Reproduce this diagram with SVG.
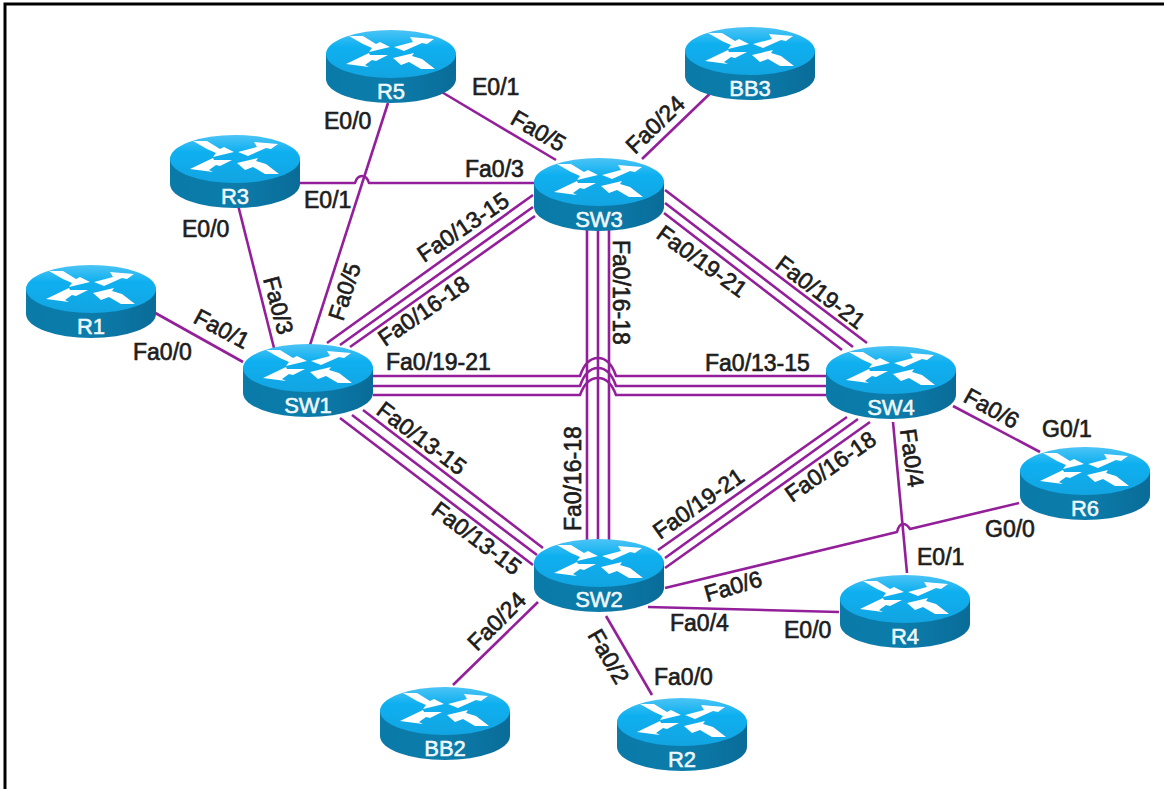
<svg xmlns="http://www.w3.org/2000/svg" width="1164" height="789" viewBox="0 0 1164 789">
<style>
.l{fill:none;stroke:#93209a;stroke-width:2.6;stroke-linejoin:round}
text{font-family:"Liberation Sans",Arial,sans-serif}
.t{font-size:23px;fill:#1c1c1c;stroke:#1c1c1c;stroke-width:.65}
.n{font-size:22px;fill:#eef8fc;stroke:#eef8fc;stroke-width:.55;text-anchor:middle}
</style>
<defs>
<linearGradient id="top" x1="0" y1="0" x2="0" y2="1"><stop offset="0" stop-color="#4cc4f5"/><stop offset=".35" stop-color="#0fb0f0"/><stop offset="1" stop-color="#12a4e2"/></linearGradient>
<linearGradient id="side" x1="0" y1="0" x2="1" y2="0"><stop offset="0" stop-color="#0a7aa8"/><stop offset=".5" stop-color="#0c7cab"/><stop offset="1" stop-color="#0a6c98"/></linearGradient>
<g id="router">
<path d="M-65,0V25A65,24 0 0 0 65,25V0Z" fill="url(#side)"/>
<ellipse rx="65" ry="24" fill="url(#top)"/>
<path fill="#fff" d="M-42,-18L-28,-18L-15,-10L-11,-12L-1,-7L-22,-2L-19,-6L-28,-10Z M3,-7L22,-12L19,-17L43,-15L36,-10L31,-11L13,-3Z M-45,10L-22,-1L-21,1L-3,1L-15,7L-19,6L-26,11L-22,13Z M2,4L23,-1L21,2L31,5L44,15L30,15L18,8L10,11Z"/>
</g>
</defs>
<path d="M5,789V4H1164" fill="none" stroke="#000" stroke-width="3"/>
<g id="connectors">
<path class="l" d="M388,103L310,345"/>
<path class="l" d="M298,183H355Q357,176 362,176Q367,176 369,183H536"/>
<path class="l" d="M440,91L556,160"/>
<path class="l" d="M722,82L642,159"/>
<path class="l" d="M238,205L274,348"/>
<path class="l" d="M150,310L243,362"/>
<path class="l" d="M327,343L533,195M340,345L533,207M350,347L535,216"/>
<path class="l" d="M587,225V545M598,225V545M609,225V545"/>
<path class="l" d="M373,376H580C584,364 590,358 598,358C606,358 612,364 616,376H826"/>
<path class="l" d="M373,386H580C584,374 590,368 598,368C606,368 612,374 616,386H826"/>
<path class="l" d="M373,395H580C584,384 590,378 598,378C606,378 612,384 616,395H826"/>
<path class="l" d="M665,190L867,343M665,203L853,347M664,213L842,350"/>
<path class="l" d="M363,410L543,548M352,415L537,555M340,418L533,565"/>
<path class="l" d="M658,550L847,417M665,558L858,419M665,568L870,422"/>
<path class="l" d="M953,406L1040,452"/>
<path class="l" d="M893,422L907,573"/>
<path class="l" d="M1019,503L910,529Q907,524 903,524Q899,524 897,532L665,588"/>
<path class="l" d="M648,607L839,612"/>
<path class="l" d="M538,602L453,685"/>
<path class="l" d="M606,616L652,695"/>
</g>
<g id="R5"><use href="#router" x="391" y="54"/><text class="n" x="391" y="99">R5</text></g>
<g id="BB3"><use href="#router" x="750" y="51"/><text class="n" x="750" y="96">BB3</text></g>
<g id="R3"><use href="#router" x="235" y="159"/><text class="n" x="235" y="204">R3</text></g>
<g id="SW3"><use href="#router" x="599" y="182"/><text class="n" x="599" y="227">SW3</text></g>
<g id="R1"><use href="#router" x="91" y="289"/><text class="n" x="91" y="334">R1</text></g>
<g id="SW1"><use href="#router" x="308" y="368"/><text class="n" x="308" y="413">SW1</text></g>
<g id="SW4"><use href="#router" x="891" y="370"/><text class="n" x="891" y="415">SW4</text></g>
<g id="R6"><use href="#router" x="1085" y="471"/><text class="n" x="1085" y="516">R6</text></g>
<g id="SW2"><use href="#router" x="599" y="563"/><text class="n" x="599" y="607">SW2</text></g>
<g id="R4"><use href="#router" x="905" y="599"/><text class="n" x="905" y="644">R4</text></g>
<g id="BB2"><use href="#router" x="445" y="711"/><text class="n" x="445" y="756">BB2</text></g>
<g id="R2"><use href="#router" x="682" y="722"/><text class="n" x="682" y="767">R2</text></g>
<g id="labels">
<text class="t" x="472" y="95">E0/1</text>
<text class="t" x="324" y="129">E0/0</text>
<text class="t" x="465" y="177">Fa0/3</text>
<text class="t" x="304" y="208">E0/1</text>
<text class="t" x="182" y="237">E0/0</text>
<text class="t" x="133" y="360">Fa0/0</text>
<text class="t" x="386" y="370">Fa0/19-21</text>
<text class="t" x="705" y="371">Fa0/13-15</text>
<text class="t" x="1042" y="437">G0/1</text>
<text class="t" x="985" y="537">G0/0</text>
<text class="t" x="917" y="565">E0/1</text>
<text class="t" x="784" y="638">E0/0</text>
<text class="t" x="670" y="631">Fa0/4</text>
<text class="t" x="654" y="685">Fa0/0</text>
<text class="t" transform="translate(509,123) rotate(30)">Fa0/5</text>
<text class="t" transform="translate(635,155) rotate(-44)">Fa0/24</text>
<text class="t" transform="translate(424,263) rotate(-34)">Fa0/13-15</text>
<text class="t" transform="translate(385,347) rotate(-34.5)">Fa0/16-18</text>
<text class="t" transform="translate(613,240) rotate(90)">Fa0/16-18</text>
<text class="t" transform="translate(655,237) rotate(36)">Fa0/19-21</text>
<text class="t" transform="translate(774,267) rotate(37)">Fa0/19-21</text>
<text class="t" transform="translate(263,279) rotate(75)">Fa0/3</text>
<text class="t" transform="translate(192,322) rotate(28)">Fa0/1</text>
<text class="t" transform="translate(343,322) rotate(-72)">Fa0/5</text>
<text class="t" transform="translate(375,413) rotate(37)">Fa0/13-15</text>
<text class="t" transform="translate(430,513) rotate(37)">Fa0/13-15</text>
<text class="t" transform="translate(581,531) rotate(-90)">Fa0/16-18</text>
<text class="t" transform="translate(660,540) rotate(-35)">Fa0/19-21</text>
<text class="t" transform="translate(792,503) rotate(-35)">Fa0/16-18</text>
<text class="t" transform="translate(962,401) rotate(29)">Fa0/6</text>
<text class="t" transform="translate(900,430) rotate(82)">Fa0/4</text>
<text class="t" transform="translate(707,602) rotate(-16)">Fa0/6</text>
<text class="t" transform="translate(477,652) rotate(-45)">Fa0/24</text>
<text class="t" transform="translate(587,635) rotate(60)">Fa0/2</text>
</g>
</svg>
